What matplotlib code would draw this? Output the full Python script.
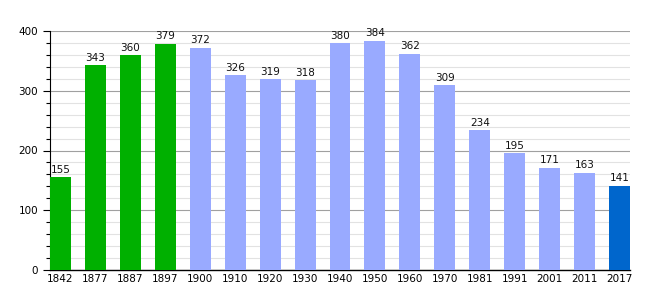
import matplotlib
matplotlib.use("Agg")
import matplotlib.pyplot as plt
from matplotlib.ticker import MultipleLocator

# Données
annees = ["1842", "1877", "1887", "1897", "1900", "1910", "1920", "1930", "1940",
          "1950", "1960", "1970", "1981", "1991", "2001", "2011", "2017"]
population = [155, 343, 360, 379, 372, 326, 319, 318, 380, 384, 362, 309, 234,
              195, 171, 163, 141]
couleurs = ["#00b000"] * 4 + ["#99aaff"] * 12 + ["#0066cc"]

fig = plt.figure(figsize=(6.6, 3.0), dpi=100)
ax = fig.add_axes([50 / 660, 30 / 300, 580 / 660, 239 / 300])

x = range(len(annees))
bars = ax.bar(x, population, width=0.6, color=couleurs, zorder=3)
for xi, v in zip(x, population):
    ax.text(xi, v + 4, str(v), ha="center", va="bottom", fontsize=7.5,
            color="#111111", zorder=4)

ax.set_xlim(-0.3, len(annees) - 0.7)
ax.set_ylim(0, 400)
ax.yaxis.set_major_locator(MultipleLocator(100))
ax.yaxis.set_minor_locator(MultipleLocator(20))
ax.grid(axis="y", which="major", color="#a0a0a0", linewidth=0.8, zorder=0)
ax.grid(axis="y", which="minor", color="#e2e2e2", linewidth=0.8, zorder=0)

ax.set_xticks(list(x))
ax.set_xticklabels(annees, fontsize=7.5)
ax.tick_params(axis="x", length=0, pad=3)
ax.tick_params(axis="y", which="major", length=5, width=0.8, labelsize=7.5)
ax.tick_params(axis="y", which="minor", length=3, width=0.8)

ax.spines["top"].set_visible(False)
ax.spines["right"].set_visible(False)
ax.spines["left"].set_linewidth(0.8)
ax.spines["bottom"].set_linewidth(1.0)

fig.savefig("out.png", dpi=100)
